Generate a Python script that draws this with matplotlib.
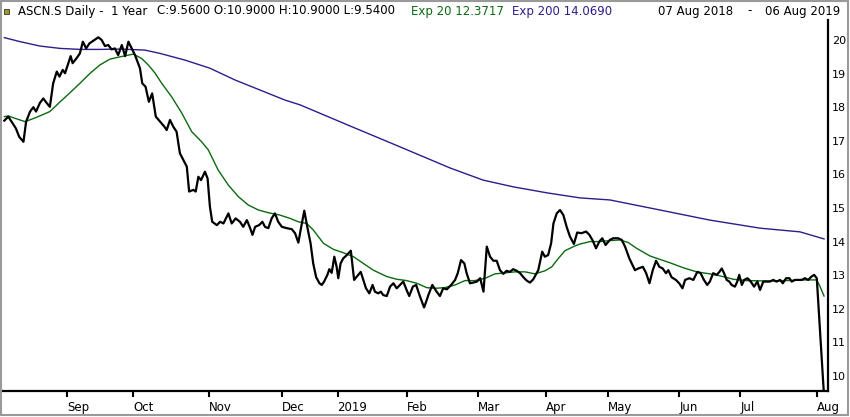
import matplotlib
matplotlib.use("Agg")
import matplotlib.pyplot as plt
from matplotlib.patches import Rectangle

# trading-day index (0 = 07 Aug 2018) and daily close
close_day = [0, 1.2, 2.2, 3.5, 4.5, 5.8, 6.6, 7.8, 8.8, 9.6, 10.8, 11.8, 12.8, 13.8, 14.8,
             15.9, 16.7, 17.7, 18.4, 19.4, 20.1, 20.7, 21.9, 22.9, 23.8, 24.8, 25.8, 27.0,
             28.5, 29.5, 30.5, 31.5, 32.5, 33.5, 34.5, 35.6, 36.6, 37.6, 38.6, 39.6, 41.1,
             41.8, 42.8, 43.8, 44.8, 45.9, 47.2, 48.5, 49.2, 50.2, 51.2, 52.2, 53.2, 54.5,
             55.3, 56.0, 57.3, 58.0, 58.8, 59.6, 60.8, 61.6, 62.3, 63.0, 64.4, 65.4, 66.4,
             67.9, 68.9, 70.1, 71.4, 72.4, 73.5, 74.5, 75.2, 76.0, 77.2, 78.2, 79.0, 80.0,
             81.0, 82.0, 83.0, 84.1, 85.6, 87.1, 88.1, 89.1, 89.8, 90.9, 91.8, 92.8, 93.6,
             94.5, 95.5, 96.2, 96.9, 97.9, 98.5, 99.2, 100.0, 100.7, 101.2, 101.9, 102.7,
             103.8, 105.0, 106.0, 107.0, 108.0, 108.8, 109.6, 110.6, 111.6, 112.3, 113.3,
             114.1, 114.8, 115.9, 116.9, 117.9, 118.9, 119.9, 120.9, 121.9, 122.7, 123.8,
             124.8, 125.8, 127.2, 128.0, 128.5, 129.7, 131.0, 132.0, 133.0, 134.1, 135.4,
             136.6, 137.4, 138.4, 139.4, 140.1, 141.1, 142.1, 143.2, 144.2, 145.2, 146.2,
             147.2, 148.2, 149.2, 150.2, 151.2, 152.2, 153.2, 154.2, 155.3, 156.3, 157.3,
             158.3, 159.3, 160.3, 161.8, 163.0, 163.8, 164.8, 165.7, 166.4, 167.4, 168.4,
             169.4, 170.4, 171.4, 172.6, 173.6, 174.9, 176.3, 177.3, 178.3, 179.3, 180.3,
             181.2, 182.2, 183.5, 184.5, 186.0, 187.1, 188.1, 189.4, 191.1, 192.1, 193.5,
             194.5, 195.5, 196.5, 197.5, 198.5, 199.5, 200.5, 201.2, 202.2, 203.5, 204.5,
             205.5, 206.3, 207.6, 208.8, 210.0, 211.0, 212.0, 213.0, 213.8, 214.8, 215.9,
             216.7, 217.4, 218.1, 218.9, 219.7, 220.4, 221.4, 222.1, 222.7, 223.5, 224.2,
             225.2, 226.2, 227.2, 228.2, 229.0, 230.0, 231.0, 232.0, 233.0, 234.0, 235.1,
             235.9, 236.9, 237.9, 238.6, 239.6, 240.6, 241.6, 242.6, 243.6, 244.6, 245.4,
             246.2, 248.3]
close = [17.60, 17.72, 17.57, 17.37, 17.12, 16.97, 17.57, 17.87, 18.00, 17.87, 18.13, 18.26,
         18.13, 18.01, 18.71, 19.06, 18.91, 19.11, 19.01, 19.31, 19.52, 19.31, 19.46, 19.60,
         19.95, 19.75, 19.90, 19.98, 20.08, 20.00, 19.82, 19.85, 19.72, 19.75, 19.55, 19.85,
         19.52, 19.95, 19.75, 19.55, 19.16, 18.71, 18.61, 18.16, 18.41, 17.72, 17.57, 17.42,
         17.32, 17.62, 17.42, 17.27, 16.63, 16.38, 16.23, 15.49, 15.54, 15.49, 15.93, 15.83,
         16.08, 15.88, 15.04, 14.59, 14.49, 14.59, 14.54, 14.84, 14.54, 14.69, 14.59, 14.44,
         14.64, 14.40, 14.20, 14.44, 14.49, 14.59, 14.44, 14.40, 14.69, 14.84, 14.59, 14.44,
         14.40, 14.37, 14.25, 13.97, 14.35, 14.92, 14.44, 13.95, 13.35, 12.94, 12.76, 12.71,
         12.81, 13.01, 13.18, 13.07, 13.55, 13.25, 12.91, 13.35, 13.50, 13.60, 13.73, 12.86,
         12.98, 13.10, 12.86, 12.61, 12.46, 12.71, 12.51, 12.46, 12.51, 12.41, 12.38, 12.66,
         12.76, 12.61, 12.71, 12.81, 12.56, 12.38, 12.66, 12.71, 12.41, 12.04, 12.26, 12.41,
         12.71, 12.51, 12.38, 12.61, 12.58, 12.71, 12.86, 13.06, 13.45, 13.35, 13.06, 12.76,
         12.78, 12.81, 12.91, 12.51, 13.85, 13.55, 13.43, 13.43, 13.15, 13.04, 13.13, 13.10,
         13.18, 13.13, 13.06, 12.94, 12.84, 12.78, 12.88, 13.15, 13.70, 13.55, 13.60, 13.95,
         14.54, 14.84, 14.94, 14.79, 14.44, 14.15, 13.93, 14.27, 14.25, 14.30, 14.20, 14.03,
         13.80, 14.00, 14.10, 13.90, 14.05, 14.10, 14.10, 14.05, 13.85, 13.50, 13.15, 13.20,
         13.25, 13.06, 12.76, 13.15, 13.43, 13.25, 13.20, 13.06, 13.15, 12.94, 12.86, 12.76,
         12.61, 12.86, 12.91, 12.86, 13.10, 13.06, 12.86, 12.71, 12.81, 13.06, 13.01, 13.10,
         13.20, 13.06, 12.86, 12.81, 12.71, 12.66, 12.81, 13.01, 12.71, 12.86, 12.91, 12.81,
         12.66, 12.81, 12.56, 12.81, 12.81, 12.81, 12.86, 12.81, 12.86, 12.76, 12.91, 12.91,
         12.81, 12.86, 12.86, 12.86, 12.91, 12.86, 12.96, 13.01, 12.91, 9.56]

ema20_day = [0, 1.2, 3.2, 6.3, 9.8, 13.8, 16.9, 19.9, 22.9, 26.0, 29.0, 32.0, 35.1, 37.6,
             39.1, 41.6, 43.6, 45.7, 47.7, 50.7, 53.8, 56.8, 59.8, 61.8, 64.8, 67.9, 70.9,
             73.9, 77.0, 80.0, 83.5, 86.6, 89.1, 91.6, 93.6, 96.7, 99.7, 102.7, 105.8, 108.8,
             111.8, 115.9, 118.9, 121.9, 125.0, 128.0, 130.5, 133.5, 136.6, 139.6, 142.6,
             145.7, 148.7, 151.7, 154.8, 157.8, 160.8, 163.8, 165.9, 167.9, 169.9, 172.9,
             174.5, 177.5, 180.5, 183.5, 186.6, 189.1, 191.6, 195.7, 198.7, 201.7, 205.8,
             209.8, 213.8, 216.9, 220.9, 224.9, 231.0, 237.1, 243.1, 246.2, 247.2, 248.4]
ema20 = [17.72, 17.74, 17.67, 17.57, 17.70, 17.87, 18.16, 18.43, 18.71, 19.01, 19.26, 19.43,
         19.50, 19.55, 19.58, 19.45, 19.26, 19.01, 18.71, 18.31, 17.82, 17.27, 16.97, 16.73,
         16.13, 15.68, 15.34, 15.09, 14.94, 14.86, 14.79, 14.69, 14.59, 14.54, 14.35, 13.95,
         13.77, 13.67, 13.55, 13.35, 13.15, 12.96, 12.88, 12.84, 12.76, 12.63, 12.61, 12.63,
         12.71, 12.84, 12.84, 12.91, 13.04, 13.07, 13.10, 13.10, 13.04, 13.13, 13.25, 13.50,
         13.73, 13.87, 13.93, 14.00, 14.00, 14.03, 14.05, 13.97, 13.80, 13.57, 13.47, 13.37,
         13.22, 13.10, 13.04, 12.98, 12.88, 12.84, 12.83, 12.84, 12.86, 12.86, 12.66, 12.38]

ema200_day = [0, 4.8, 10.8, 16.9, 22.9, 29.0, 35.1, 42.6, 47.2, 54.8, 62.3, 69.9, 77.5,
              85.1, 89.6, 104.8, 119.9, 135.1, 145.1, 154.2, 164.5, 174.5, 183.5, 198.7,
              213.8, 229.0, 241.1, 248.4]
ema200 = [20.07, 19.95, 19.82, 19.75, 19.72, 19.72, 19.73, 19.70, 19.60, 19.40, 19.16,
          18.81, 18.51, 18.21, 18.07, 17.44, 16.82, 16.19, 15.83, 15.63, 15.45, 15.30,
          15.24, 14.94, 14.64, 14.40, 14.29, 14.08]

month_days = [19, 39, 62, 84, 101, 122, 143.5, 164, 183, 204.5, 223, 246.3]
month_labels = ["Sep", "Oct", "Nov", "Dec", "2019", "Feb", "Mar", "Apr", "May", "Jun", "Jul", "Aug"]
price_ticks = [10, 11, 12, 13, 14, 15, 16, 17, 18, 19, 20]

GREEN = "#0b6a10"
BLUE = "#2e1c8c"

W, H = 850, 417
fig = plt.figure(figsize=(W / 100, H / 100), dpi=100)
fig.patch.set_facecolor("white")

# axes in pixel terms: left 3, right 828, top 20, bottom 391
ax = fig.add_axes([3 / W, (H - 391) / H, 825 / W, 371 / H])
ax.plot(ema200_day, ema200, color=BLUE, lw=1.0)
ax.plot(ema20_day, ema20, color=GREEN, lw=1.0)
ax.plot(close_day, close, color="black", lw=1.6)

ax.set_xlim(-0.4, 249.6)
ax.set_ylim(9.554, 20.595)

for s in ["top", "left"]:
    ax.spines[s].set_visible(False)
ax.spines["right"].set_linewidth(1.6)
ax.spines["bottom"].set_linewidth(1.6)

ax.yaxis.tick_right()
ax.set_yticks(price_ticks)
ax.set_yticklabels([str(v) for v in price_ticks])
ax.tick_params(axis="y", length=0, pad=3, labelsize=8)

ax.set_xticks(month_days)
ax.set_xticklabels(month_labels)
ax.tick_params(axis="x", direction="out", length=4, width=1.5, pad=3, labelsize=8.5)
for lbl in ax.get_xticklabels():
    lbl.set_horizontalalignment("left")

# header line
ty = 1 - 11 / H
fig.add_artist(Rectangle((4 / W, (H - 14) / H), 5 / W, 5 / H, transform=fig.transFigure,
                         facecolor="#9a9a2a", edgecolor="#333333", lw=0.6))
fig.text(18 / W, ty, "ASCN.S Daily -  1 Year", fontsize=8.5, va="center", ha="left")
fig.text(157 / W, ty, "C:9.5600 O:10.9000 H:10.9000 L:9.5400", fontsize=8.5, va="center", ha="left")
fig.text(411 / W, ty, "Exp 20 12.3717", fontsize=8.5, va="center", ha="left", color=GREEN)
fig.text(512 / W, ty, "Exp 200 14.0690", fontsize=8.5, va="center", ha="left", color=BLUE)
fig.text(658 / W, ty, "07 Aug 2018", fontsize=8.5, va="center", ha="left")
fig.text(747 / W, ty, "-", fontsize=8.5, va="center", ha="left")
fig.text(840 / W, ty, "06 Aug 2019", fontsize=8.5, va="center", ha="right")

# grey outer frame
fig.add_artist(Rectangle((1 / W, 2 / H), (W - 3) / W, (H - 3) / H, transform=fig.transFigure,
                         facecolor="none", edgecolor="#9a9a9a", lw=1.5))

fig.savefig("out.png", dpi=100)
